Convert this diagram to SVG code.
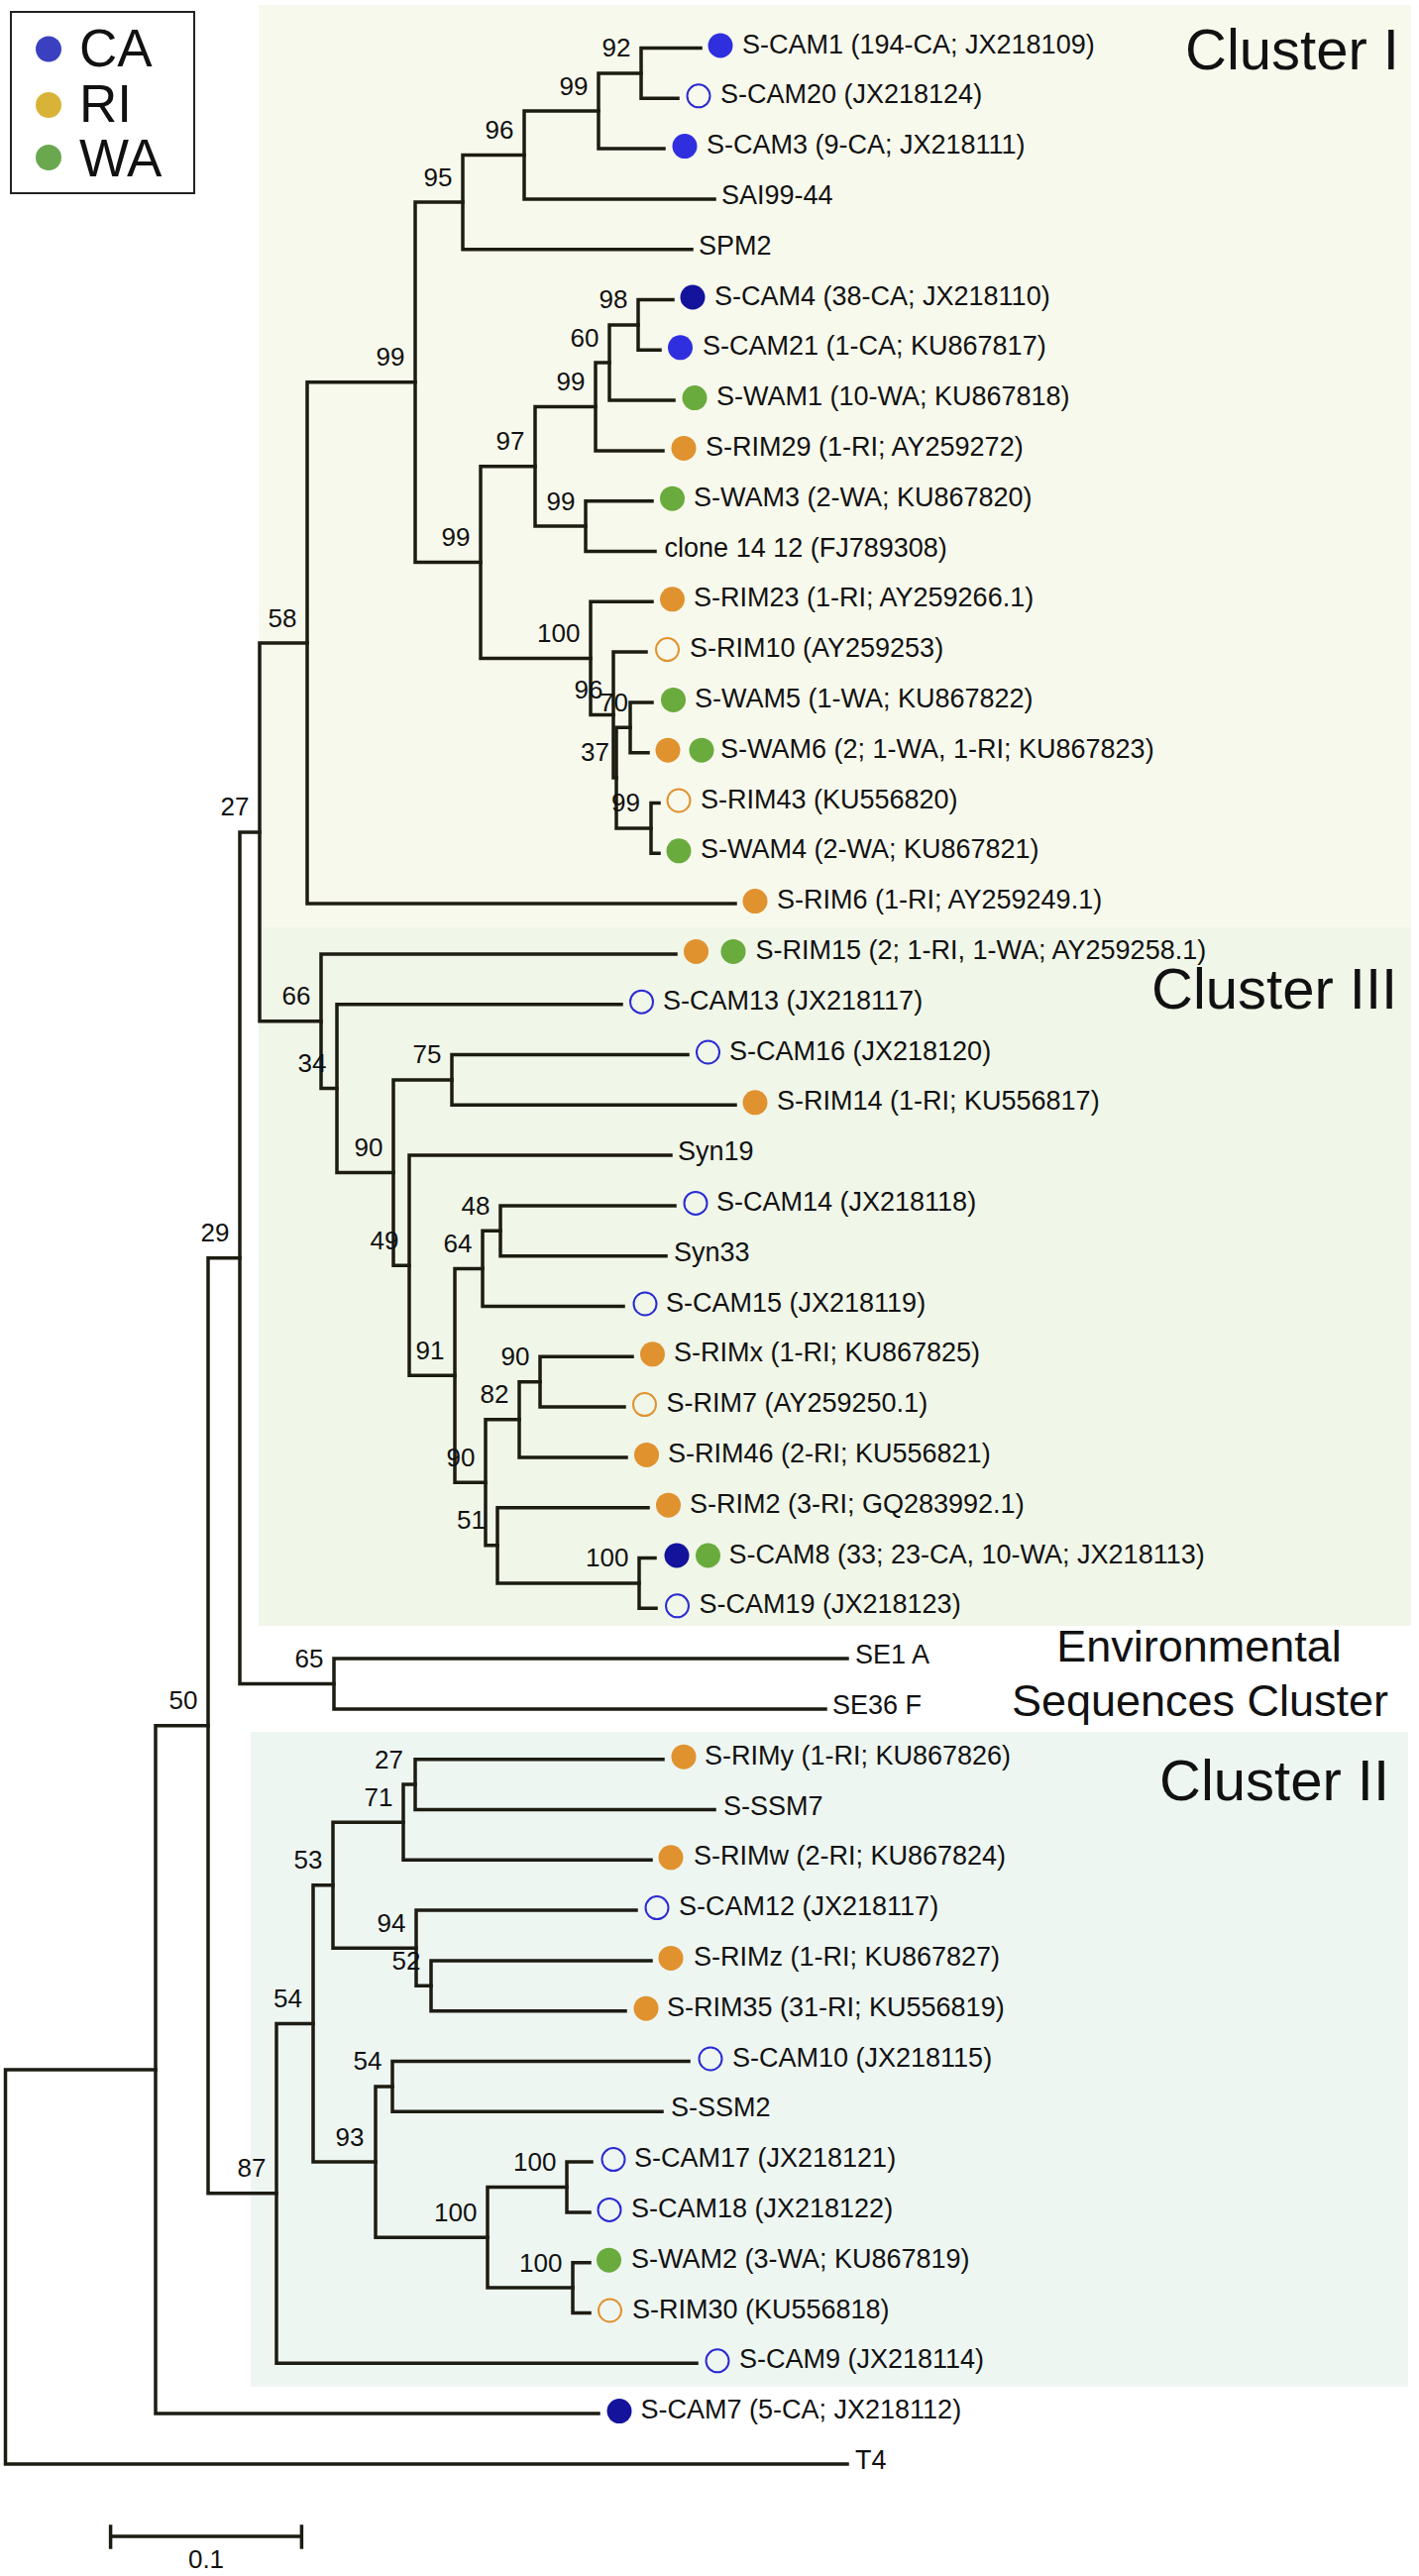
<svg xmlns="http://www.w3.org/2000/svg" width="1432" height="2600" viewBox="0 0 1432 2600">
<style>
.br{fill:none;stroke:#1c1c12;stroke-width:3.5;stroke-linecap:square;stroke-linejoin:miter}
.lf{font-family:"Liberation Sans",Arial,sans-serif;font-size:27px;fill:#111}
.bs{font-family:"Liberation Sans",Arial,sans-serif;font-size:26px;fill:#111;text-anchor:end}
.tt{font-family:"Liberation Sans",Arial,sans-serif;font-size:58px;fill:#111}
.env{font-family:"Liberation Sans",Arial,sans-serif;font-size:45px;fill:#111;text-anchor:middle}
.lg{font-family:"Liberation Sans",Arial,sans-serif;font-size:53px;fill:#111}
.cb{fill:#2f2fe0}.cn{fill:#13139c}.co{fill:#e0922f}.cg{fill:#6aab3d}
.ob{fill:none;stroke:#2a2ad2;stroke-width:2}.oo{fill:none;stroke:#e0922f;stroke-width:2}
</style>
<rect x="0" y="0" width="1432" height="2600" fill="#ffffff"/>
<g id="backgrounds">
<rect x="261" y="5" width="1163" height="931" fill="#f8f9ed"/>
<rect x="261" y="936" width="1163" height="705" fill="#f0f6e8"/>
<rect x="253" y="1748" width="1168" height="661" fill="#eef6f2"/>
</g>
<g id="legend">
<rect x="11" y="12" width="185" height="183" fill="#ffffff" stroke="#222" stroke-width="2"/>
<circle cx="49" cy="49.5" r="13" fill="#3a40c0"/>
<circle cx="49" cy="106" r="13" fill="#d9b338"/>
<circle cx="49" cy="159" r="13" fill="#6aa84f"/>
<text class="lg" x="80" y="67">CA</text>
<text class="lg" x="80" y="123">RI</text>
<text class="lg" x="80" y="178">WA</text>
</g>
<g id="titles">
<text class="tt" x="1196" y="70">Cluster I</text>
<text class="tt" x="1162" y="1018">Cluster III</text>
<text class="tt" x="1170" y="1817">Cluster II</text>
<text class="env" x="1210" y="1677">Environmental</text>
<text class="env" x="1211" y="1732">Sequences Cluster</text>
</g>
<g id="connectors">
<path class="br" d="M157,2088.95 H5.5 V2486.9 H855"/>
<path class="br" d="M210,1741.8 H157 V2436.1 H604"/>
<path class="br" d="M242,1269.7 H210 V2213.85 H279"/>
<path class="br" d="M262,839.9 H242 V1699.5 H337"/>
<path class="br" d="M310,649 H262 V1030.8 H324"/>
<path class="br" d="M419,385.85 H310 V912.1 H742"/>
<path class="br" d="M467,204.1 H419 V567.6 H485"/>
<path class="br" d="M529,156.45 H467 V251.7 H698"/>
<path class="br" d="M604,112 H529 V200.9 H721"/>
<path class="br" d="M647,73.9 H604 V150.1 H670"/>
<path class="br" d="M707,48.5 H647 V99.3 H684"/>
<path class="br" d="M540,470.8 H485 V664.45 H596"/>
<path class="br" d="M601,410.45 H540 V531.1 H591"/>
<path class="br" d="M615,366 H601 V454.9 H669"/>
<path class="br" d="M644,327.9 H615 V404.1 H680"/>
<path class="br" d="M679,302.5 H644 V353.3 H666"/>
<path class="br" d="M658,505.7 H591 V556.5 H661"/>
<path class="br" d="M658,607.3 H596 V721.6 H619"/>
<path class="br" d="M652,658.1 H619 V785.1 H622"/>
<path class="br" d="M636,734.3 H622 V835.9 H657"/>
<path class="br" d="M658,708.9 H636 V759.7 H654"/>
<path class="br" d="M665,810.5 H657 V861.3 H665"/>
<path class="br" d="M682,962.9 H324 V1098.6 H340"/>
<path class="br" d="M627,1013.7 H340 V1183.6 H397"/>
<path class="br" d="M456,1089.9 H397 V1277.2 H413"/>
<path class="br" d="M694,1064.5 H456 V1115.3 H742"/>
<path class="br" d="M677,1166.1 H413 V1388.35 H459"/>
<path class="br" d="M487,1280.4 H459 V1496.3 H490"/>
<path class="br" d="M505,1242.3 H487 V1318.5 H629"/>
<path class="br" d="M681,1216.9 H505 V1267.7 H672"/>
<path class="br" d="M524,1432.8 H490 V1559.8 H502"/>
<path class="br" d="M545,1394.7 H524 V1470.9 H632"/>
<path class="br" d="M638,1369.3 H545 V1420.1 H630"/>
<path class="br" d="M654,1521.7 H502 V1597.9 H645"/>
<path class="br" d="M661,1572.5 H645 V1623.3 H662"/>
<path class="br" d="M855,1674.1 H337 V1724.9 H833"/>
<path class="br" d="M316,2042.4 H279 V2385.3 H703"/>
<path class="br" d="M336,1902.7 H316 V2182.1 H379"/>
<path class="br" d="M407,1839.2 H336 V1966.2 H420"/>
<path class="br" d="M419,1801.1 H407 V1877.3 H657"/>
<path class="br" d="M669,1775.7 H419 V1826.5 H721"/>
<path class="br" d="M642,1928.1 H420 V2004.3 H435"/>
<path class="br" d="M657,1978.9 H435 V2029.7 H631"/>
<path class="br" d="M396,2105.9 H379 V2258.3 H492"/>
<path class="br" d="M695,2080.5 H396 V2131.3 H668"/>
<path class="br" d="M572,2207.5 H492 V2309.1 H578"/>
<path class="br" d="M597,2182.1 H572 V2232.9 H595"/>
<path class="br" d="M595,2283.7 H578 V2334.5 H595"/>
</g>
<g id="support-values">
<text class="bs" x="636.5" y="57.4">92</text>
<text class="bs" x="593.5" y="95.5">99</text>
<text class="bs" x="518.5" y="140">96</text>
<text class="bs" x="456.5" y="187.6">95</text>
<text class="bs" x="408.5" y="369.4">99</text>
<text class="bs" x="633.5" y="311.4">98</text>
<text class="bs" x="604.5" y="349.5">60</text>
<text class="bs" x="590.5" y="394">99</text>
<text class="bs" x="529.5" y="454.3">97</text>
<text class="bs" x="580.5" y="514.6">99</text>
<text class="bs" x="474.5" y="551.1">99</text>
<text class="bs" x="585.5" y="648">100</text>
<text class="bs" x="608.5" y="705.1">96</text>
<text class="bs" x="634" y="718">70</text>
<text class="bs" x="615" y="768">37</text>
<text class="bs" x="646" y="819">99</text>
<text class="bs" x="299.5" y="632.5">58</text>
<text class="bs" x="251.5" y="823.4">27</text>
<text class="bs" x="313.5" y="1014.3">66</text>
<text class="bs" x="329.5" y="1082.1">34</text>
<text class="bs" x="386.5" y="1167.1">90</text>
<text class="bs" x="445.5" y="1073.4">75</text>
<text class="bs" x="402.5" y="1260.7">49</text>
<text class="bs" x="448.5" y="1371.9">91</text>
<text class="bs" x="476.5" y="1263.9">64</text>
<text class="bs" x="494.5" y="1225.8">48</text>
<text class="bs" x="479.5" y="1479.8">90</text>
<text class="bs" x="513.5" y="1416.3">82</text>
<text class="bs" x="534.5" y="1378.2">90</text>
<text class="bs" x="490" y="1543.3">51</text>
<text class="bs" x="634.5" y="1581.4">100</text>
<text class="bs" x="326.5" y="1683">65</text>
<text class="bs" x="231.5" y="1253.2">29</text>
<text class="bs" x="199.5" y="1725.3">50</text>
<text class="bs" x="268.5" y="2197.4">87</text>
<text class="bs" x="305" y="2025.9">54</text>
<text class="bs" x="325.5" y="1886.2">53</text>
<text class="bs" x="396.5" y="1822.7">71</text>
<text class="bs" x="407" y="1784.6">27</text>
<text class="bs" x="409.5" y="1949.7">94</text>
<text class="bs" x="424.5" y="1987.8">52</text>
<text class="bs" x="367.5" y="2165.6">93</text>
<text class="bs" x="385.5" y="2089.4">54</text>
<text class="bs" x="481.5" y="2241.8">100</text>
<text class="bs" x="561.5" y="2191">100</text>
<text class="bs" x="567.5" y="2292.6">100</text>
</g>
<g id="leaf-S-CAM1"><circle class="cb" cx="727" cy="46" r="12.5"/><text class="lf" x="749" y="53.5">S-CAM1 (194-CA; JX218109)</text></g>
<g id="leaf-S-CAM20"><circle class="ob" cx="705" cy="96.8" r="11.5"/><text class="lf" x="727" y="104.3">S-CAM20 (JX218124)</text></g>
<g id="leaf-S-CAM3"><circle class="cb" cx="691" cy="147.6" r="12.5"/><text class="lf" x="713" y="155.1">S-CAM3 (9-CA; JX218111)</text></g>
<g id="leaf-SAI99-44"><text class="lf" x="728" y="205.9">SAI99-44</text></g>
<g id="leaf-SPM2"><text class="lf" x="705" y="256.7">SPM2</text></g>
<g id="leaf-S-CAM4"><circle class="cn" cx="699" cy="300" r="12.5"/><text class="lf" x="721" y="307.5">S-CAM4 (38-CA; JX218110)</text></g>
<g id="leaf-S-CAM21"><circle class="cb" cx="686.5" cy="350.8" r="12.5"/><text class="lf" x="709" y="358.3">S-CAM21 (1-CA; KU867817)</text></g>
<g id="leaf-S-WAM1"><circle class="cg" cx="701" cy="401.6" r="12.5"/><text class="lf" x="723" y="409.1">S-WAM1 (10-WA; KU867818)</text></g>
<g id="leaf-S-RIM29"><circle class="co" cx="690" cy="452.4" r="12.5"/><text class="lf" x="712" y="459.9">S-RIM29 (1-RI; AY259272)</text></g>
<g id="leaf-S-WAM3"><circle class="cg" cx="678.5" cy="503.2" r="12.5"/><text class="lf" x="700" y="510.7">S-WAM3 (2-WA; KU867820)</text></g>
<g id="leaf-clone"><text class="lf" x="670.6" y="561.5">clone 14 12 (FJ789308)</text></g>
<g id="leaf-S-RIM23"><circle class="co" cx="678.5" cy="604.8" r="12.5"/><text class="lf" x="700" y="612.3">S-RIM23 (1-RI; AY259266.1)</text></g>
<g id="leaf-S-RIM10"><circle class="oo" cx="673.5" cy="655.6" r="11.5"/><text class="lf" x="696" y="663.1">S-RIM10 (AY259253)</text></g>
<g id="leaf-S-WAM5"><circle class="cg" cx="679.5" cy="706.4" r="12.5"/><text class="lf" x="701" y="713.9">S-WAM5 (1-WA; KU867822)</text></g>
<g id="leaf-S-WAM6"><circle class="co" cx="674" cy="757.2" r="12.5"/><circle class="cg" cx="708" cy="757.2" r="12.5"/><text class="lf" x="727" y="764.7">S-WAM6 (2; 1-WA, 1-RI; KU867823)</text></g>
<g id="leaf-S-RIM43"><circle class="oo" cx="685" cy="808" r="11.5"/><text class="lf" x="707" y="815.5">S-RIM43 (KU556820)</text></g>
<g id="leaf-S-WAM4"><circle class="cg" cx="685" cy="858.8" r="12.5"/><text class="lf" x="707" y="866.3">S-WAM4 (2-WA; KU867821)</text></g>
<g id="leaf-S-RIM6"><circle class="co" cx="762" cy="909.6" r="12.5"/><text class="lf" x="784" y="917.1">S-RIM6 (1-RI; AY259249.1)</text></g>
<g id="leaf-S-RIM15"><circle class="co" cx="702.5" cy="960.4" r="12.5"/><circle class="cg" cx="740" cy="960.4" r="12.5"/><text class="lf" x="762.5" y="967.9">S-RIM15 (2; 1-RI, 1-WA; AY259258.1)</text></g>
<g id="leaf-S-CAM13"><circle class="ob" cx="647.5" cy="1011.2" r="11.5"/><text class="lf" x="669" y="1018.7">S-CAM13 (JX218117)</text></g>
<g id="leaf-S-CAM16"><circle class="ob" cx="714.5" cy="1062" r="11.5"/><text class="lf" x="736" y="1069.5">S-CAM16 (JX218120)</text></g>
<g id="leaf-S-RIM14"><circle class="co" cx="762" cy="1112.8" r="12.5"/><text class="lf" x="784" y="1120.3">S-RIM14 (1-RI; KU556817)</text></g>
<g id="leaf-Syn19"><text class="lf" x="684" y="1171.1">Syn19</text></g>
<g id="leaf-S-CAM14"><circle class="ob" cx="702" cy="1214.4" r="11.5"/><text class="lf" x="723" y="1221.9">S-CAM14 (JX218118)</text></g>
<g id="leaf-Syn33"><text class="lf" x="680" y="1272.7">Syn33</text></g>
<g id="leaf-S-CAM15"><circle class="ob" cx="651" cy="1316" r="11.5"/><text class="lf" x="672" y="1323.5">S-CAM15 (JX218119)</text></g>
<g id="leaf-S-RIMx"><circle class="co" cx="658.5" cy="1366.8" r="12.5"/><text class="lf" x="680" y="1374.3">S-RIMx (1-RI; KU867825)</text></g>
<g id="leaf-S-RIM7"><circle class="oo" cx="650.5" cy="1417.6" r="11.5"/><text class="lf" x="672.5" y="1425.1">S-RIM7 (AY259250.1)</text></g>
<g id="leaf-S-RIM46"><circle class="co" cx="652.5" cy="1468.4" r="12.5"/><text class="lf" x="674" y="1475.9">S-RIM46 (2-RI; KU556821)</text></g>
<g id="leaf-S-RIM2"><circle class="co" cx="674.5" cy="1519.2" r="12.5"/><text class="lf" x="696" y="1526.7">S-RIM2 (3-RI; GQ283992.1)</text></g>
<g id="leaf-S-CAM8"><circle class="cn" cx="683" cy="1570" r="12.5"/><circle class="cg" cx="714.5" cy="1570" r="12.5"/><text class="lf" x="735.5" y="1577.5">S-CAM8 (33; 23-CA, 10-WA; JX218113)</text></g>
<g id="leaf-S-CAM19"><circle class="ob" cx="683.5" cy="1620.8" r="11.5"/><text class="lf" x="705.5" y="1628.3">S-CAM19 (JX218123)</text></g>
<g id="leaf-SE1A"><text class="lf" x="863" y="1679.1">SE1 A</text></g>
<g id="leaf-SE36F"><text class="lf" x="840" y="1729.9">SE36 F</text></g>
<g id="leaf-S-RIMy"><circle class="co" cx="690" cy="1773.2" r="12.5"/><text class="lf" x="711" y="1780.7">S-RIMy (1-RI; KU867826)</text></g>
<g id="leaf-S-SSM7"><text class="lf" x="730" y="1831.5">S-SSM7</text></g>
<g id="leaf-S-RIMw"><circle class="co" cx="677" cy="1874.8" r="12.5"/><text class="lf" x="700" y="1882.3">S-RIMw (2-RI; KU867824)</text></g>
<g id="leaf-S-CAM12"><circle class="ob" cx="663" cy="1925.6" r="11.5"/><text class="lf" x="685" y="1933.1">S-CAM12 (JX218117)</text></g>
<g id="leaf-S-RIMz"><circle class="co" cx="677" cy="1976.4" r="12.5"/><text class="lf" x="700" y="1983.9">S-RIMz (1-RI; KU867827)</text></g>
<g id="leaf-S-RIM35"><circle class="co" cx="652" cy="2027.2" r="12.5"/><text class="lf" x="673" y="2034.7">S-RIM35 (31-RI; KU556819)</text></g>
<g id="leaf-S-CAM10"><circle class="ob" cx="717" cy="2078" r="11.5"/><text class="lf" x="739" y="2085.5">S-CAM10 (JX218115)</text></g>
<g id="leaf-S-SSM2"><text class="lf" x="677" y="2136.3">S-SSM2</text></g>
<g id="leaf-S-CAM17"><circle class="ob" cx="619" cy="2179.6" r="11.5"/><text class="lf" x="640" y="2187.1">S-CAM17 (JX218121)</text></g>
<g id="leaf-S-CAM18"><circle class="ob" cx="615" cy="2230.4" r="11.5"/><text class="lf" x="637" y="2237.9">S-CAM18 (JX218122)</text></g>
<g id="leaf-S-WAM2"><circle class="cg" cx="614.5" cy="2281.2" r="12.5"/><text class="lf" x="637" y="2288.7">S-WAM2 (3-WA; KU867819)</text></g>
<g id="leaf-S-RIM30"><circle class="oo" cx="615.5" cy="2332" r="11.5"/><text class="lf" x="638" y="2339.5">S-RIM30 (KU556818)</text></g>
<g id="leaf-S-CAM9"><circle class="ob" cx="724" cy="2382.8" r="11.5"/><text class="lf" x="746" y="2390.3">S-CAM9 (JX218114)</text></g>
<g id="leaf-S-CAM7"><circle class="cn" cx="625" cy="2433.6" r="12.5"/><text class="lf" x="646.5" y="2441.1">S-CAM7 (5-CA; JX218112)</text></g>
<g id="leaf-T4"><text class="lf" x="863" y="2491.9">T4</text></g>
<g id="scale-bar">
<path class="br" d="M111.6,2560 H304.4 M111.6,2550 V2571 M304.4,2550 V2571"/>
<text class="bs" x="208" y="2592" style="text-anchor:middle">0.1</text>
</g>
</svg>
